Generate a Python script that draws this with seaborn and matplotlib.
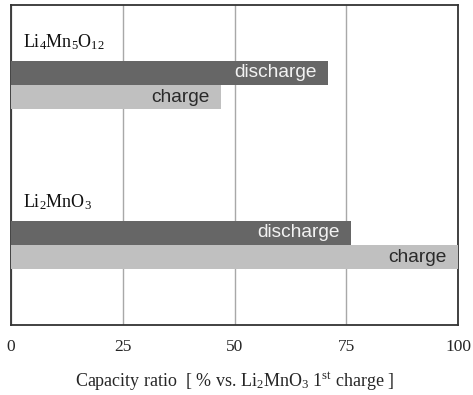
import matplotlib
matplotlib.use("Agg")
import matplotlib.pyplot as plt
import seaborn as sns
import pandas as pd

# Capacity ratios relative to the first charge of Li2MnO3
compounds = ["Li$_4$Mn$_5$O$_{12}$", "Li$_2$MnO$_3$"]
discharge = [71, 76]
charge = [47, 100]
series = ["discharge", "charge"]
xticks = [0, 25, 50, 75, 100]

df = pd.DataFrame({
    "compound": compounds * 2,
    "type": ["discharge"] * 2 + ["charge"] * 2,
    "value": discharge + charge,
})

sns.set_theme(style="white")
plt.rcParams["font.family"] = ["Liberation Serif", "Noto Sans CJK JP"]
plt.rcParams["mathtext.fontset"] = "custom"
plt.rcParams["mathtext.rm"] = "Liberation Serif"
plt.rcParams["mathtext.default"] = "regular"

fig = plt.figure(figsize=(4.73, 3.95), dpi=100)
ax = fig.add_axes([11 / 473, 1 - 325 / 395, 447 / 473, 320 / 395])

palette = {"discharge": "#666666", "charge": "#c0c0c0"}
sns.barplot(data=df, x="value", y="compound", hue="type", hue_order=series,
            order=compounds, palette=palette, orient="h", width=0.305,
            dodge=True, legend=False, saturation=1, ax=ax, zorder=3,
            edgecolor="none")

ax.set_xlim(0, 100)
ax.set_ylim(1.5, -0.5)
ax.set_xticks(xticks)
ax.set_xticklabels([str(t) for t in xticks], fontsize=12.5)
ax.tick_params(axis="x", length=0, pad=10)
ax.set_yticks([])
ax.set_ylabel("")
ax.xaxis.grid(True, color="#a8a8a8", linewidth=1.0, zorder=0)
ax.set_axisbelow(True)
for s in ax.spines.values():
    s.set_color("#333333")
    s.set_linewidth(1.3)
    s.set_visible(True)

ax.set_xlabel("Capacity ratio  [ % vs. Li$_2$MnO$_3$ 1$^{st}$ charge ]",
              fontsize=13, labelpad=11)

# Compound names above each bar pair
for i, name in enumerate(compounds):
    ax.text(2.7, i - 0.27, name, fontsize=13, va="center", ha="left",
            color="#111111")

# Bar labels inside the right end of each bar
bw = 0.305 / 2
for i in range(len(compounds)):
    ax.text(discharge[i] - 2.5, i - bw / 2, "discharge", ha="right",
            va="center", fontsize=13.8, color="#f2f2f2",
            family="Liberation Sans", zorder=4)
    ax.text(charge[i] - 2.5, i + bw / 2, "charge", ha="right",
            va="center", fontsize=13.8, color="#2a2a2a",
            family="Liberation Sans", zorder=4)

fig.savefig("out.png", dpi=100)
